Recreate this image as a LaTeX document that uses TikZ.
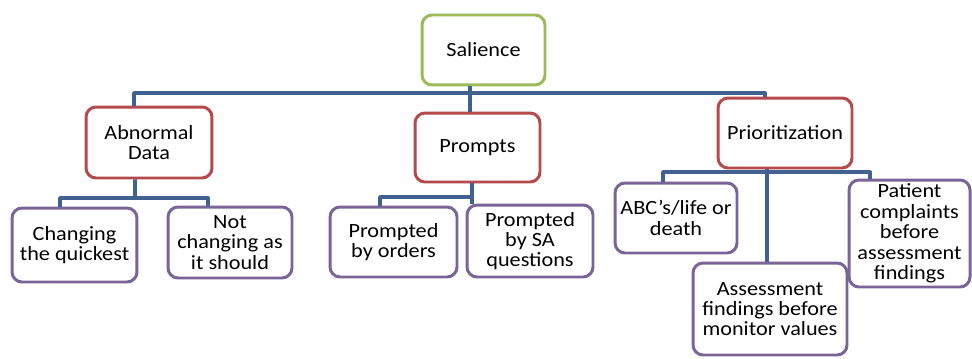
\documentclass[tikz,border=0pt]{standalone}
\usepackage{fontspec}
\setmainfont{Carlito}[FakeStretch=1.1]
\usetikzlibrary{positioning, calc}
\definecolor{smgreen}{HTML}{9BBB59}
\definecolor{smred}{HTML}{B5494B}
\definecolor{smpurple}{HTML}{7B6598}
\definecolor{smblue}{HTML}{41618F}
\tikzset{
  every picture/.style={line join=round},
  % SmartArt-like boxes
  box/.style={rectangle, rounded corners=0.2cm, line width=1.7pt, fill=white,
    align=center, inner sep=2pt, text=black,
    font=\fontsize{11.5}{11.6}\selectfont},
  link/.style={smblue, line width=2.2pt},
}
\begin{document}
\begin{tikzpicture}[x=0.02cm, y=-0.02cm]
  \tikzset{root/.style={box, draw=smgreen},
           cat/.style={box, draw=smred},
           leaf/.style={box, draw=smpurple}}
  \useasboundingbox (0,0) rectangle (972,358);
  % ---- top level
  \node[root, minimum width=2.46cm, minimum height=1.40cm] (sal) at (483.5,50) {Salience};
  % ---- second level
  \node[cat, minimum width=2.52cm, minimum height=1.42cm] (abn) at (149,142.5) {Abnormal\\Data};
  \node[cat, minimum width=2.50cm, minimum height=1.38cm] (pro) at (477.5,147.5) {Prompts};
  \node[cat, minimum width=2.68cm, minimum height=1.40cm] (pri) at (785,133) {Prioritization};
  % ---- leaves
  \node[leaf, minimum width=2.50cm, minimum height=1.48cm] (chg) at (74.5,245) {Changing\\the quickest};
  \node[leaf, minimum width=2.48cm, minimum height=1.42cm] (notch) at (230,242.5) {Not\\changing as\\it should};
  \node[leaf, minimum width=2.54cm, minimum height=1.40cm] (ord) at (393.5,242) {Prompted\\by orders};
  \node[leaf, minimum width=2.52cm, minimum height=1.44cm] (sa) at (530,241) {Prompted\\by SA\\questions};
  \node[leaf, minimum width=2.44cm, minimum height=1.40cm] (abc) at (676,218) {ABC’s/life or\\death};
  \node[leaf, minimum width=3.08cm, minimum height=1.84cm] (ass) at (770,309) {Assessment\\findings before\\monitor values};
  \node[leaf, minimum width=2.42cm, minimum height=2.14cm] (pat) at (909.5,233.5) {Patient\\complaints\\before\\assessment\\findings};
  % ---- connectors
  \coordinate (bus) at (470,93);
  \coordinate (abus) at (135,198);
  \coordinate (pbus) at (472,197);
  \coordinate (rbus) at (767,172);
  \draw[link] ([xshift=-0.27cm]sal.south) -- ([xshift=-0.27cm]sal.south |- pro.north);
  \draw[link] ([xshift=-0.30cm]abn.north) |- (bus) -| ([xshift=-0.40cm]pri.north);
  \draw[link] ([xshift=-0.28cm]abn.south) -- (abus);
  \draw[link] ([xshift=-0.29cm]chg.north) |- (abus) -| ([xshift=-0.44cm]notch.north);
  \draw[link] ([xshift=-0.11cm]pro.south) -- ([xshift=-0.11cm]pro.south |- sa.north);
  \draw[link] ([xshift=-0.27cm]ord.north) |- (pbus);
  \draw[link] ([xshift=-0.36cm]pri.south) -- ([xshift=-0.36cm]pri.south |- ass.north);
  \draw[link] ([xshift=-0.26cm]abc.north) |- (rbus) -| ([xshift=-0.79cm]pat.north);
\end{tikzpicture}
\end{document}
